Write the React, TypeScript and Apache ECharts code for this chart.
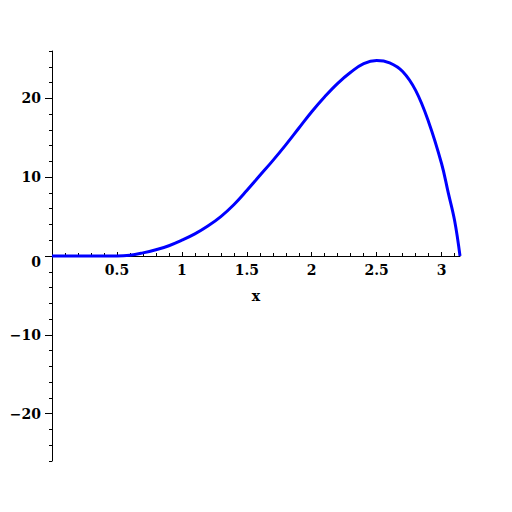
import React, { useEffect, useRef } from "react";
import * as echarts from "echarts";

const xValues = [0, 0.25, 0.5, 0.6, 0.7, 0.8, 0.9, 1.0, 1.1, 1.2, 1.3, 1.4, 1.5, 1.6, 1.7, 1.8, 1.9, 2.0, 2.1, 2.2, 2.3, 2.4, 2.5, 2.6, 2.7, 2.8, 2.9, 3.0, 3.05, 3.1, 3.1416];
const yValues = [0, 0, 0, 0.1, 0.4, 0.8, 1.3, 2.0, 2.8, 3.8, 5.0, 6.5, 8.3, 10.2, 12.1, 14.1, 16.2, 18.3, 20.2, 21.9, 23.3, 24.4, 24.8, 24.5, 23.4, 21.0, 17.0, 11.7, 8.1, 4.5, 0];
const xTicks = [0.5, 1, 1.5, 2, 2.5, 3];
const xMinorTicks = [0.1, 0.2, 0.3, 0.4, 0.6, 0.7, 0.8, 0.9, 1.1, 1.2, 1.3, 1.4, 1.6, 1.7, 1.8, 1.9, 2.1, 2.2, 2.3, 2.4, 2.6, 2.7, 2.8, 2.9, 3.1];
const yTicks = [-20, -10, 0, 10, 20];
const yMinorTicks = [-26, -24, -22, -18, -16, -14, -12, -8, -6, -4, -2, 2, 4, 6, 8, 12, 14, 16, 18, 22, 24, 26];

const FONT = "DejaVu Serif";
const GRID_TOP = 51;
const GRID_BOTTOM = 51;
const GRID_H = 512 - GRID_TOP - GRID_BOTTOM;

const labelStyle = { color: "#000", fontFamily: FONT, fontSize: 14, fontWeight: "bold" };

export default function App() {
  const ref = useRef<HTMLDivElement>(null);
  useEffect(() => {
    if (!ref.current) return;
    const chart = echarts.init(ref.current, undefined, { renderer: "svg" });
    const data = xValues.map((x, i) => [x, yValues[i]]);
    const xBase = {
      type: "value",
      min: 0,
      max: Math.PI,
      position: "bottom",
      offset: -GRID_H / 2,
      splitLine: { show: false },
    };
    const yBase = {
      type: "value",
      min: -26,
      max: 26,
      position: "left",
      offset: 0,
      splitLine: { show: false },
    };
    chart.setOption({
      animation: false,
      backgroundColor: "#ffffff",
      grid: { left: 52, right: 52, top: GRID_TOP, bottom: GRID_BOTTOM },
      xAxis: [
        {
          ...xBase,
          name: "x",
          nameLocation: "middle",
          nameGap: 33,
          nameTextStyle: labelStyle,
          axisLine: { onZero: false, lineStyle: { color: "#000", width: 1 } },
          axisTick: { show: true, inside: true, length: 4, customValues: xTicks, lineStyle: { color: "#000" } },
          axisLabel: { ...labelStyle, margin: 7, customValues: xTicks, formatter: (v: number) => String(v) },
        },
        {
          ...xBase,
          axisLine: { show: false, onZero: false },
          axisTick: { show: true, inside: true, length: 3, customValues: xMinorTicks, lineStyle: { color: "#000" } },
          axisLabel: { show: false },
        },
      ],
      yAxis: [
        {
          ...yBase,
          axisLine: { onZero: false, lineStyle: { color: "#000", width: 1 } },
          axisTick: { show: true, length: 7, customValues: yTicks, lineStyle: { color: "#000" } },
          axisLabel: {
            ...labelStyle,
            margin: 11,
            customValues: yTicks,
            formatter: (v: number) => (v === 0 ? "{z|0}" : v < 0 ? "\u2212" + Math.abs(v) : String(v)),
            rich: { z: { ...labelStyle, padding: [12, 0, 0, 0] } },
          },
        },
        {
          ...yBase,
          axisLine: { show: false, onZero: false },
          axisTick: { show: true, length: 3, customValues: yMinorTicks, lineStyle: { color: "#000" } },
          axisLabel: { show: false },
        },
      ],
      series: [
        {
          type: "line",
          xAxisIndex: 0,
          yAxisIndex: 0,
          data,
          smooth: 0.4,
          showSymbol: false,
          clip: false,
          lineStyle: { color: "#0000ff", width: 3 },
        },
      ],
    });
    return () => chart.dispose();
  }, []);
  return (
    <div
      ref={ref}
      style={{ position: "fixed", left: 0, top: 0, width: 512, height: 512 }}
    />
  );
}
